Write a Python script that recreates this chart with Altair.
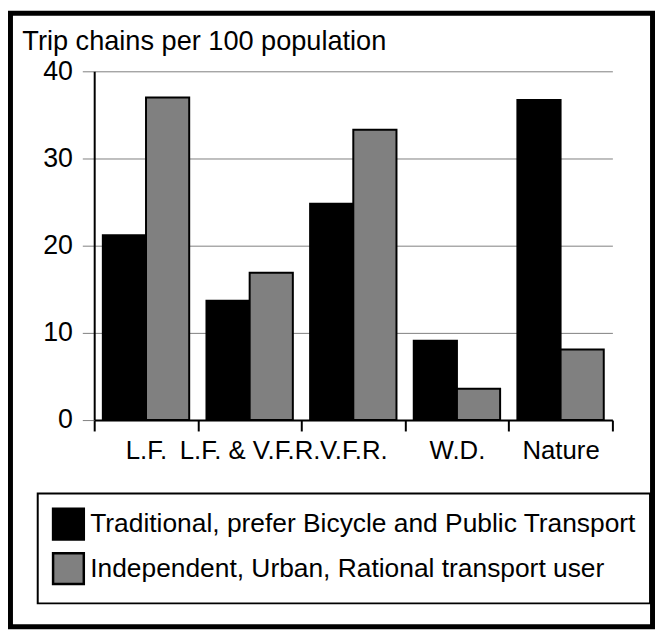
import altair as alt
import pandas as pd

categories = ["L.F.", "L.F. & V.F.R.", "V.F.R.", "W.D.", "Nature"]
series_names = ["Traditional, prefer Bicycle and Public Transport",
                "Independent, Urban, Rational transport user"]
traditional = [21.2, 13.7, 24.8, 9.1, 36.7]
independent = [37.0, 16.9, 33.3, 3.6, 8.1]
y_ticks = [0, 10, 20, 30, 40]
colors = ["black", "#808080"]

rows = []
for c, a, b in zip(categories, traditional, independent):
    rows.append({"cat": c, "series": series_names[0], "value": a})
    rows.append({"cat": c, "series": series_names[1], "value": b})
df = pd.DataFrame(rows)

FONT = "Liberation Sans"
W, H = 523, 352

bars = alt.Chart(df).mark_bar(stroke="black", strokeWidth=2).encode(
    x=alt.X("cat:N", sort=categories,
            scale=alt.Scale(paddingInner=0, paddingOuter=0),
            axis=alt.Axis(title=None, labelAngle=0, tickBand="extent", tickSize=11,
                          tickWidth=2, tickColor="black", domainColor="black",
                          domainWidth=2, labelFontSize=26, labelFont=FONT,
                          labelColor="black", labelPadding=7, grid=False)),
    xOffset=alt.XOffset("series:N", sort=series_names,
                        scale=alt.Scale(paddingInner=0, paddingOuter=0.2)),
    y=alt.Y("value:Q", scale=alt.Scale(domain=[0, 40], nice=False),
            axis=alt.Axis(values=y_ticks, title="Trip chains per 100 population",
                          titleAngle=0, titleX=-73, titleY=-22, titleAlign="left",
                          titleBaseline="alphabetic", titleFont=FONT, titleFontSize=27.4,
                          titleFontWeight="normal", titleColor="black",
                          labelFont=FONT, labelFontSize=27, labelColor="black",
                          labelPadding=10, tickSize=12, tickColor="#808080",
                          gridColor="#808080", gridWidth=1, domainColor="black",
                          domainWidth=2)),
    color=alt.Color("series:N", sort=series_names,
                    scale=alt.Scale(domain=series_names, range=colors),
                    legend=alt.Legend(title=None, orient="none", legendX=-57, legendY=426,
                                      symbolType="square", symbolSize=961,
                                      symbolStrokeColor="black", symbolStrokeWidth=2.5,
                                      labelFont=FONT, labelFontSize=26.6, labelColor="black",
                                      labelOffset=5, rowPadding=3, padding=14,
                                      strokeColor="black", labelLimit=800)),
)

frame = alt.Chart(pd.DataFrame({"a": [0]})).mark_rect(
    fill="white", fillOpacity=0, stroke="black", strokeWidth=5
).encode(x=alt.value(-84.5), x2=alt.value(563.5), y=alt.value(-58.5), y2=alt.value(560.5))

chart = alt.layer(bars, frame).properties(
    width=W, height=H,
    autosize=alt.AutoSizeParams(type="none"),
    padding={"left": 87, "top": 61, "right": 43, "bottom": 211},
).configure_view(strokeWidth=0).configure_legend(strokeWidth=2)

chart.save("out.html", embed_options={"renderer": "svg", "actions": False})
